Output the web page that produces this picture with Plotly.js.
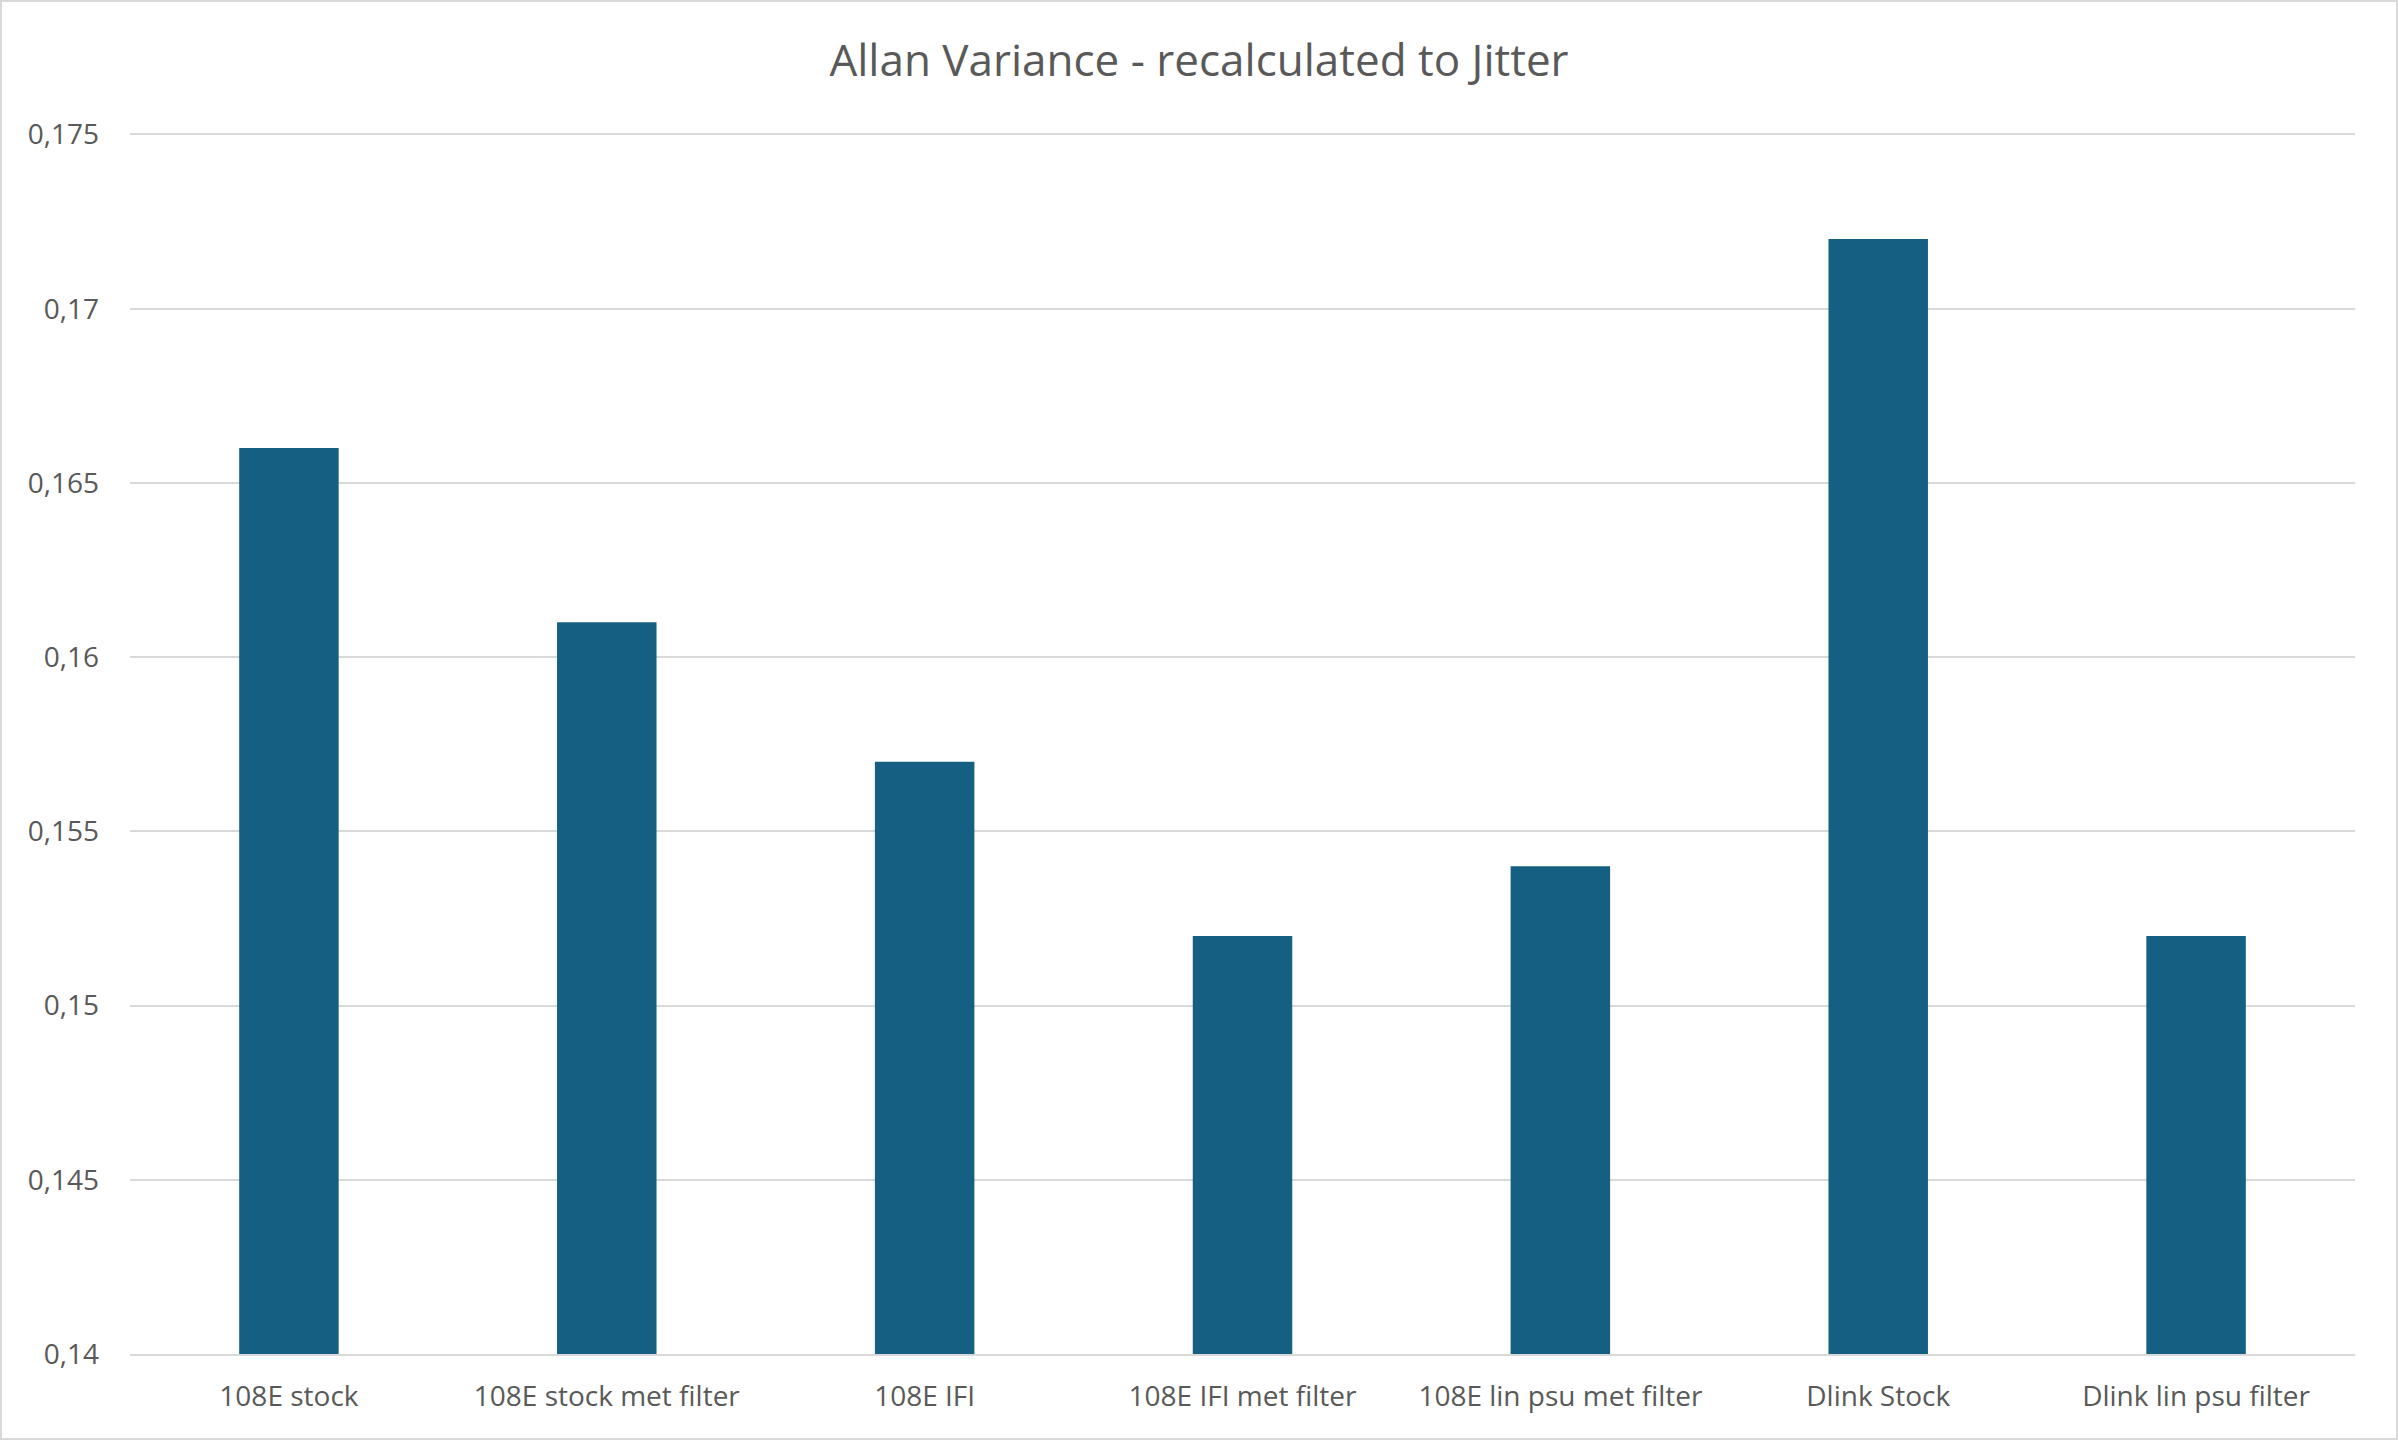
<!DOCTYPE html>
<html>
<head>
<meta charset="utf-8">
<script src="https://cdn.plot.ly/plotly-3.0.1.min.js"></script>
<style>
  html, body { margin: 0; padding: 0; background: #ffffff; }
  #wrap { position: relative; width: 2398px; height: 1440px; }
  #chart { width: 2398px; height: 1440px; }
  #frame { position: absolute; left: 0; top: 0; width: 2394px; height: 1436px; border: 2px solid #d9d9d9; pointer-events: none; }
</style>
</head>
<body>
<div id="wrap">
  <div id="chart"></div>
  <div id="frame"></div>
</div>
<script>
const categories = ["108E stock", "108E stock met filter", "108E IFI", "108E IFI met filter", "108E lin psu met filter", "Dlink Stock", "Dlink lin psu filter"];
const jitterValues = [0.166, 0.161, 0.157, 0.152, 0.154, 0.172, 0.152];
const yTickValues = [0.14, 0.145, 0.15, 0.155, 0.16, 0.165, 0.17, 0.175];
const yTickLabels = ["0,14", "0,145", "0,15", "0,155", "0,16", "0,165", "0,17", "0,175"];

const fontFamily = "'Open Sans', 'Noto Sans', sans-serif";

const trace = {
  type: "bar",
  x: categories,
  y: jitterValues,
  marker: { color: "#156082" },
  hoverinfo: "x+y"
};

const layout = {
  width: 2398,
  height: 1440,
  paper_bgcolor: "#ffffff",
  plot_bgcolor: "#ffffff",
  margin: { l: 130, r: 43, t: 131, b: 86 },
  bargap: 0.687,
  showlegend: false,
  separators: ",.",
  title: {
    text: "Allan Variance - recalculated to Jitter",
    font: { family: fontFamily, size: 44, color: "#595959" },
    x: 0.5,
    xanchor: "center",
    xref: "container",
    y: 1 - 61 / 1440,
    yref: "container",
    yanchor: "middle"
  },
  xaxis: {
    type: "category",
    showgrid: false,
    showline: true,
    linecolor: "#d9d9d9",
    linewidth: 2,
    ticks: "",
    tickfont: { family: fontFamily, size: 28, color: "#595959" },
    ticklabelstandoff: 16,
    fixedrange: true
  },
  yaxis: {
    range: [0.14, 0.1751],
    tickvals: yTickValues,
    ticktext: yTickLabels,
    showgrid: true,
    gridcolor: "#d9d9d9",
    gridwidth: 2,
    zeroline: false,
    showline: false,
    ticks: "",
    tickfont: { family: fontFamily, size: 28, color: "#595959" },
    ticklabelstandoff: 30,
    fixedrange: true
  }
};

Plotly.newPlot("chart", [trace], layout, { displayModeBar: false, staticPlot: true });
</script>
</body>
</html>
